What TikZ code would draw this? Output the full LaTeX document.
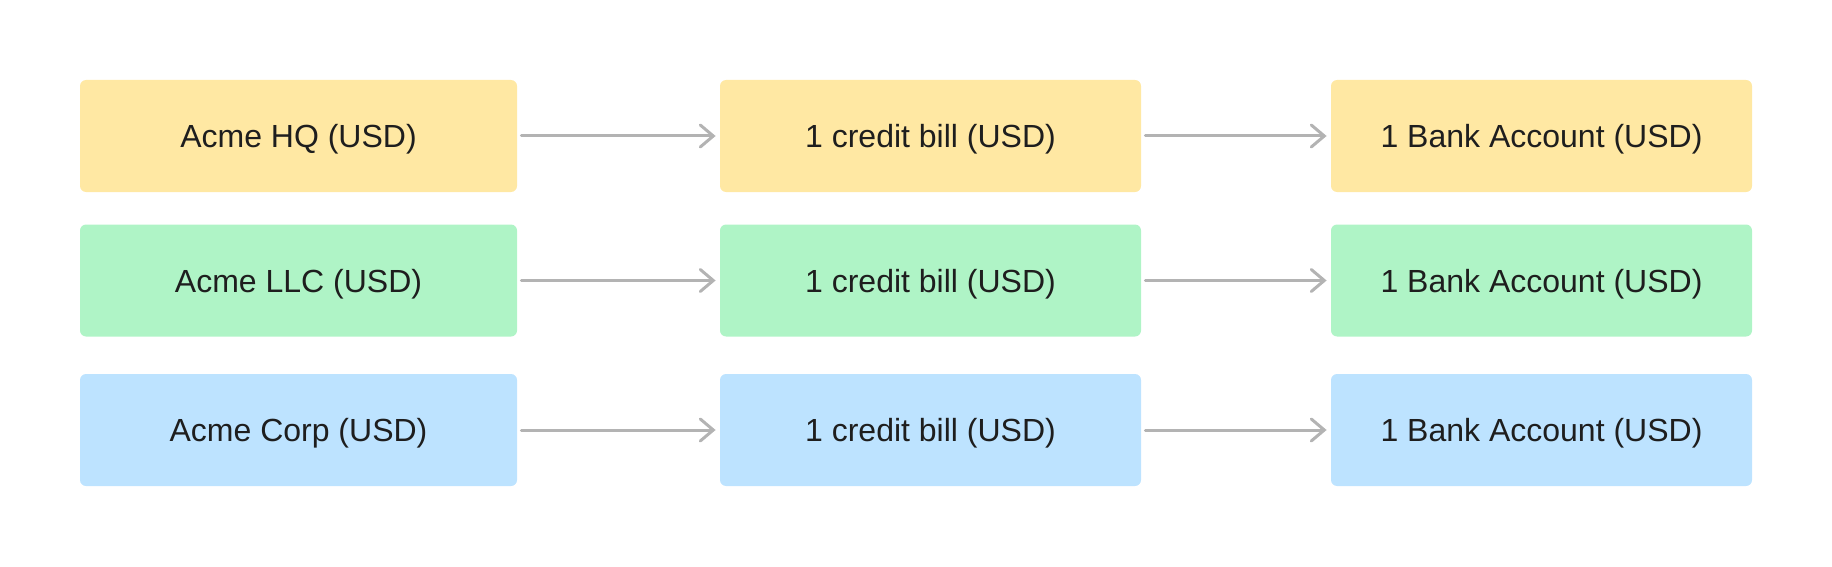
\documentclass[tikz,border=0pt]{standalone}
\usepackage{fontspec}
\setmainfont{Liberation Sans}
\usetikzlibrary{arrows.meta}
\definecolor{boxyellow}{HTML}{FFE8A3}
\definecolor{boxgreen}{HTML}{AFF4C6}
\definecolor{boxblue}{HTML}{BDE3FF}
\definecolor{linkgray}{HTML}{B3B3B3}
\definecolor{labelink}{HTML}{1E1E1E}
\tikzset{
  entity/.style={rounded corners=3pt, minimum height=56pt, inner sep=0pt,
    text depth=0pt, text=labelink, font=\fontsize{16}{18}\selectfont},
  link/.style={draw=linkgray, line width=1.5pt, line cap=round,
    -{Straight Barb[length=6.5pt, width=11pt, line cap=round]}, shorten <=2pt, shorten >=2pt}
}
\begin{document}
\begin{tikzpicture}[x=0.5pt, y=-0.5pt]
	\useasboundingbox (0,0) rectangle (1832,567);
	\path
	(298.5,136) coordinate (r1)
	(298.5,280.5) coordinate (r2)
	(298.5,430) coordinate (r3);
	\foreach \r/\c/\n in {1/boxyellow/HQ, 2/boxgreen/LLC, 3/boxblue/Corp}{
		\node[entity, fill=\c, minimum width=218.5pt] (org\r) at (r\r) {Acme \n\ (USD)};
		\node[entity, fill=\c, minimum width=210.5pt] (bill\r) at ([xshift=316pt] r\r) {1 credit bill (USD)};
		\node[entity, fill=\c, minimum width=210.5pt] (bank\r) at ([xshift=621.5pt] r\r) {1 Bank Account (USD)};
		\draw[link] (org\r) -- (bill\r);
		\draw[link] (bill\r) -- (bank\r);
	}
\end{tikzpicture}
\end{document}
